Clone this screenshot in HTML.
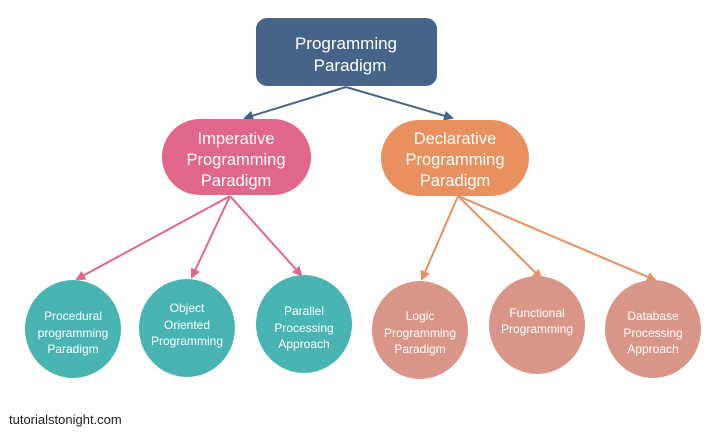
<!DOCTYPE html>
<html><head><style>
body{margin:0;background:#fff;}
svg text{font-family:"Liberation Sans",sans-serif;fill:#fff;text-anchor:middle;}
</style></head><body>
<svg width="726" height="431" viewBox="0 0 726 431">
<defs>
<marker id="b" markerWidth="10" markerHeight="10" refX="8" refY="5" orient="auto" markerUnits="userSpaceOnUse"><path d="M0,0 L10,5 L0,10 z" fill="#46648a"/></marker>
<marker id="p" markerWidth="10" markerHeight="10" refX="8" refY="5" orient="auto" markerUnits="userSpaceOnUse"><path d="M0,0 L10,5 L0,10 z" fill="#e0678a"/></marker>
<marker id="o" markerWidth="10" markerHeight="10" refX="8" refY="5" orient="auto" markerUnits="userSpaceOnUse"><path d="M0,0 L10,5 L0,10 z" fill="#e8915f"/></marker>
</defs>
<g stroke-width="2" fill="none">
<line x1="346" y1="87" x2="245" y2="118" stroke="#46648a" marker-end="url(#b)"/>
<line x1="346" y1="87" x2="452" y2="118" stroke="#46648a" marker-end="url(#b)"/>
<line x1="230" y1="196" x2="77" y2="279" stroke="#e0678a" marker-end="url(#p)"/>
<line x1="230" y1="196" x2="192" y2="277" stroke="#e0678a" marker-end="url(#p)"/>
<line x1="230" y1="196" x2="301" y2="275" stroke="#e0678a" marker-end="url(#p)"/>
<line x1="458" y1="196" x2="422" y2="279" stroke="#e8915f" marker-end="url(#o)"/>
<line x1="458" y1="196" x2="541" y2="278" stroke="#e8915f" marker-end="url(#o)"/>
<line x1="458" y1="196" x2="655" y2="280" stroke="#e8915f" marker-end="url(#o)"/>
</g>
<rect x="256" y="18" width="181" height="68" rx="11" fill="#46648a"/>
<text x="346" y="49" font-size="17">Programming</text>
<text x="350" y="71" font-size="17">Paradigm</text>
<rect x="162" y="119" width="149" height="76" rx="38" fill="#e0678a"/>
<text x="236" y="144" font-size="16.5">Imperative</text>
<text x="236" y="165" font-size="16.5">Programming</text>
<text x="236" y="186" font-size="16.5">Paradigm</text>
<rect x="381" y="120" width="148" height="76" rx="38" fill="#e8915f"/>
<text x="455" y="144" font-size="16.5">Declarative</text>
<text x="455" y="165" font-size="16.5">Programming</text>
<text x="455" y="186" font-size="16.5">Paradigm</text>
<g font-size="12">
<ellipse cx="73" cy="329" rx="48" ry="49" fill="#48b5b3"/>
<text x="73" y="320">Procedural</text><text x="73" y="337">programming</text><text x="73" y="353">Paradigm</text>
<ellipse cx="187" cy="328" rx="48" ry="49" fill="#48b5b3"/>
<text x="187" y="312">Object</text><text x="187" y="329">Oriented</text><text x="187" y="345">Programming</text>
<ellipse cx="304" cy="324" rx="48" ry="49" fill="#48b5b3"/>
<text x="304" y="315">Parallel</text><text x="304" y="332">Processing</text><text x="304" y="348">Approach</text>
<ellipse cx="420" cy="330" rx="48" ry="49" fill="#d99587"/>
<text x="420" y="320">Logic</text><text x="420" y="337">Programming</text><text x="420" y="353">Paradigm</text>
<ellipse cx="537" cy="325" rx="48" ry="49" fill="#d99587"/>
<text x="537" y="317">Functional</text><text x="537" y="333">Programming</text>
<ellipse cx="653" cy="329" rx="48" ry="49" fill="#d99587"/>
<text x="653" y="320">Database</text><text x="653" y="337">Processing</text><text x="653" y="353">Approach</text>
</g>
<text x="9" y="424" font-size="13" fill="#222" style="fill:#222;text-anchor:start">tutorialstonight.com</text>
</svg>
</body></html>
